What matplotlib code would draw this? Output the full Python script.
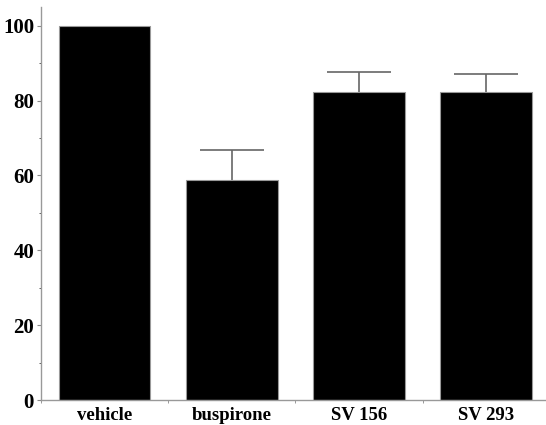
import numpy as np
import matplotlib.pyplot as plt
from matplotlib.ticker import MultipleLocator

# ---------------- Data ----------------
groups = ['vehicle', 'buspirone', 'SV 156', 'SV 293']
means = [100, 58.9, 82.2, 82.2]
sem = [0, 8.0, 5.4, 4.9]

plt.rcParams['font.family'] = ['Liberation Serif', 'DejaVu Serif']
plt.rcParams['font.weight'] = 'bold'

fig = plt.figure(figsize=(5.46, 4.25), dpi=100)
ax = fig.add_axes([41/546, 25/425, 1 - 41/546, 393/425])

x = np.arange(len(groups))
ax.bar(x, means, width=0.72, color='black', edgecolor='#999999', linewidth=0.8, zorder=2)
eb = ax.errorbar(x[1:], means[1:], yerr=[np.zeros(3), sem[1:]], fmt='none',
                 ecolor='#666666', elinewidth=1.2, capsize=23, capthick=1.2, zorder=1)
# only the upper caps are shown
eb[1][0].set_visible(False)

ax.set_xlim(-0.5, 3.47)
ax.set_ylim(0, 105)
ax.set_xticks(x)
ax.set_xticklabels(groups)
ax.set_yticks([0, 20, 40, 60, 80, 100])
ax.yaxis.set_minor_locator(MultipleLocator(10))
ax.set_xticks(np.arange(-0.5, 3.5, 1), minor=True)

ax.tick_params(axis='x', which='major', length=0, pad=5, labelsize=13.5)
ax.tick_params(axis='x', which='minor', length=2, color='#888888', direction='out')
ax.tick_params(axis='y', which='major', length=3, color='#888888', pad=2, labelsize=15)
ax.tick_params(axis='y', which='minor', length=1.5, color='#444444')

for s in ['top', 'right']:
    ax.spines[s].set_visible(False)
for s in ['left', 'bottom']:
    ax.spines[s].set_color('#999999')
    ax.spines[s].set_linewidth(1.0)

fig.savefig('out.png', dpi=100)
